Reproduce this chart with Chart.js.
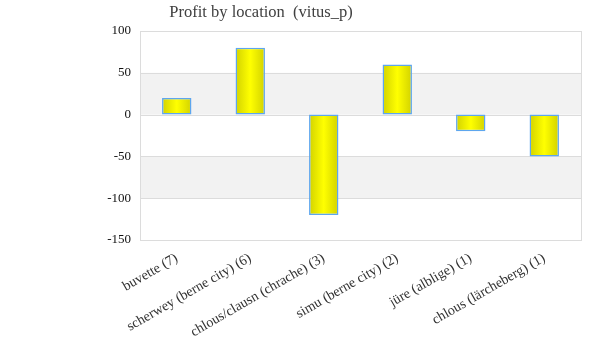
<!DOCTYPE html>
<html>
<head>
<meta charset="utf-8">
<script src="https://cdn.jsdelivr.net/npm/chart.js@4"></script>
<style>
  body { margin: 0; background: #fff; }
  #wrap { width: 600px; height: 360px; }
</style>
</head>
<body>
<div id="wrap"><canvas id="profitChart"></canvas></div>
<script>
const locations = [
  "buvette (7)",
  "scherwey (berne city) (6)",
  "chlous/clausn (chrache) (3)",
  "simu (berne city) (2)",
  "jüre (alblige) (1)",
  "chlous (lärcheberg) (1)"
];
const profit = [20, 80, -120, 60, -20, -50];
const yTicks = [100, 50, 0, -50, -100, -150];
const titleText = "Profit by location  (vitus_p)";

const serif = "Georgia, 'Liberation Serif', 'DejaVu Serif', serif";

// gradient per bar, dark olive-yellow edges, bright yellow middle
function barFill(ctx) {
  const chart = ctx.chart;
  const xs = chart.scales.x;
  if (!xs || ctx.dataIndex === undefined) return "#f0f000";
  const cx = xs.getPixelForValue(ctx.dataIndex);
  const w = xs.width / locations.length * 0.4;
  if (!isFinite(cx) || !isFinite(w) || w <= 0) return "#f0f000";
  const g = chart.ctx.createLinearGradient(cx - w / 2, 0, cx + w / 2, 0);
  g.addColorStop(0, "#d2d200");
  g.addColorStop(0.5, "#ffff00");
  g.addColorStop(1, "#d2d200");
  return g;
}

// alternating bands + frame + title
const decor = {
  id: "decor",
  beforeDatasetsDraw(chart) {
    const c = chart.ctx, a = chart.chartArea, y = chart.scales.y;
    c.save();
    c.fillStyle = "#f2f2f2";
    for (let i = 0; i < yTicks.length - 1; i++) {
      if (i % 2 === 1) {
        const t = y.getPixelForValue(yTicks[i]);
        const b = y.getPixelForValue(yTicks[i + 1]);
        c.fillRect(a.left, t, a.right - a.left, b - t);
      }
    }
    c.strokeStyle = "#dcdcdc";
    c.lineWidth = 1;
    for (const v of yTicks) {
      const p = Math.round(y.getPixelForValue(v)) + 0.5;
      c.beginPath(); c.moveTo(a.left, p); c.lineTo(a.right, p); c.stroke();
    }
    c.strokeRect(Math.round(a.left) + 0.5, Math.round(a.top) + 0.5,
      Math.round(a.right - a.left), Math.round(a.bottom - a.top));
    c.restore();
  },
  afterDraw(chart) {
    const c = chart.ctx;
    c.save();
    c.font = "16.5px " + serif;
    c.fillStyle = "#404040";
    c.textAlign = "center";
    c.textBaseline = "middle";
    c.fillText(titleText, 261, 13);
    c.restore();
  }
};

new Chart(document.getElementById("profitChart"), {
  type: "bar",
  data: {
    labels: locations,
    datasets: [{
      label: "Profit",
      data: profit,
      backgroundColor: barFill,
      borderColor: "#5ea6ee",
      borderWidth: 1.5,
      borderSkipped: false,
      categoryPercentage: 1,
      barPercentage: 0.4
    }]
  },
  options: {
    responsive: true,
    maintainAspectRatio: false,
    animation: false,
    layout: { padding: { top: 31, right: 19, bottom: 0, left: 0 } },
    plugins: {
      legend: { display: false },
      title: { display: false },
      tooltip: { enabled: false }
    },
    scales: {
      x: {
        grid: { display: false },
        border: { display: false },
        ticks: {
          color: "#333",
          font: { family: serif, size: 14 },
          minRotation: 30,
          maxRotation: 30,
          autoSkip: false,
          padding: 2
        },
        afterFit(s) { s.height = 120; }
      },
      y: {
        min: -150,
        max: 100,
        afterBuildTicks(s) { s.ticks = yTicks.map(v => ({ value: v })); },
        grid: { display: false },
        border: { display: false },
        ticks: {
          color: "#111",
          font: { family: serif, size: 13 },
          padding: 1
        },
        afterFit(s) { s.width = 140; }
      }
    }
  },
  plugins: [decor]
});
</script>
</body>
</html>
